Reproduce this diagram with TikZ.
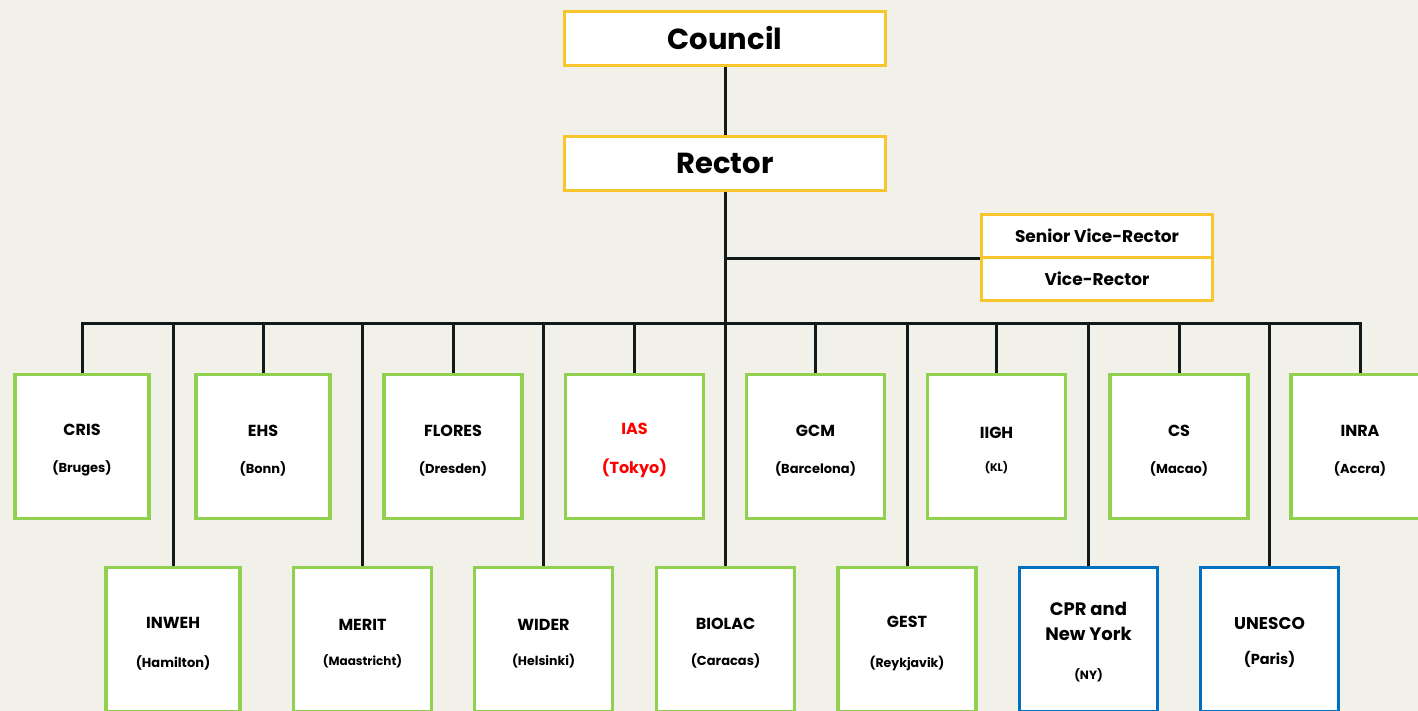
\documentclass[tikz,border=0pt]{standalone}
\usepackage{fontspec}
\setmainfont{Poppins}
\usetikzlibrary{positioning}

\definecolor{paper}{HTML}{F2F1E9}
\definecolor{gold}{HTML}{F8C52C}
\definecolor{leaf}{HTML}{92D050}
\definecolor{ocean}{HTML}{0070C0}
\definecolor{ink}{HTML}{111A1A}

\newcommand{\unitname}[1]{\rule{0pt}{19pt}#1}
\newcommand{\sitename}[1]{{\fontsize{13}{15}\selectfont(#1)}}

\begin{document}
\begin{tikzpicture}[x=1pt,y=-1pt,thick]

		\tikzstyle{office}=[draw=gold,fill=white,line width=3pt,inner sep=0pt,font=\bfseries]
		\tikzstyle{unit}=[draw=leaf,fill=white,line width=3.5pt,minimum width=138pt,minimum height=144pt,inner sep=0pt,align=center,font=\bfseries\fontsize{16}{19}\selectfont]
		\tikzstyle{slim}=[minimum width=134pt]
		\tikzstyle{liaison}=[unit,draw=ocean]
		\tikzstyle{wire}=[draw=ink,line width=3pt]

		\fill[paper] (0,0) rectangle (1418,711);
		\clip (0,0) rectangle (1418,711);

		\node[office,minimum width=321pt,minimum height=54pt,font=\bfseries\fontsize{29}{32}\selectfont] (council) at (725,38.5) {Council};
		\node[office,minimum width=321pt,minimum height=54pt,font=\bfseries\fontsize{29}{32}\selectfont] (rector) at (725,163.5) {Rector};
		\node[office,minimum width=231pt,minimum height=43pt,font=\bfseries\fontsize{17}{20}\selectfont] (svr) at (1097,236) {Senior Vice-Rector};
		\node[office,minimum width=231pt,minimum height=43pt,font=\bfseries\fontsize{17}{20}\selectfont] (vr) [below=-3pt of svr] {Vice-Rector};

		% upper row
		\node[unit,slim] (cris) at (82,446.5) {\unitname{CRIS}\\[18pt]\sitename{Bruges}};
		\node[unit,slim] (ehs) at (263,446.5) {\unitname{EHS}\\[18pt]\sitename{Bonn}};
		\node[unit] (flores) at (453,446.5) {\unitname{FLORES}\\[18pt]\sitename{Dresden}};
		\node[unit,text=red] (ias) at (634.5,446.5) {\unitname{IAS}\\[20pt]{\fontsize{16}{18}\selectfont(Tokyo)}};
		\node[unit] (gcm) at (815.5,446.5) {\unitname{GCM}\\[18pt]\sitename{Barcelona}};
		\node[unit] (iigh) at (996.5,446.5) {\unitname{IIGH}\\[14pt]{\fontsize{11}{12}\selectfont(KL)}};
		\node[unit] (cs) at (1179,446.5) {\unitname{CS}\\[18pt]\sitename{Macao}};
		\node[unit] (inra) at (1360,446.5) {\unitname{INRA}\\[18pt]\sitename{Accra}};

		% lower row
		\node[unit,slim] (inweh) at (173,639.5) {\unitname{INWEH}\\[20pt]\sitename{Hamilton}};
		\node[unit] (merit) at (362.5,639.5) {\unitname{MERIT}\\[16pt]{\fontsize{12}{13}\selectfont(Maastricht)}};
		\node[unit] (wider) at (543.5,639.5) {\unitname{WIDER}\\[16pt]{\fontsize{12.5}{13}\selectfont(Helsinki)}};
		\node[unit] (biolac) at (725.5,639.5) {\unitname{BIOLAC}\\[17pt]\sitename{Caracas}};
		\node[unit] (gest) at (907,639.5) {\unitname{GEST}\\[21pt]{\fontsize{12.5}{13}\selectfont(Reykjavik)}};
		\node[liaison,font=\bfseries\fontsize{18}{25}\selectfont] (cpr) at (1088.5,639.5) {\unitname{CPR and}\\New York\\[14pt]{\fontsize{12}{13}\selectfont(NY)}};
		\node[liaison,font=\bfseries\fontsize{17}{20}\selectfont] (unesco) at (1269.5,639.5) {\unitname{UNESCO}\\[15pt]{\fontsize{14.5}{16}\selectfont(Paris)}};

		\coordinate (vr joint) at (rector.south |- svr.south);
		\coordinate (bus) at (725,323);

		\draw[wire] (council) -- (rector);
		\draw[wire] (rector) -- (rector |- biolac.north);
		\draw[wire] (vr joint) -- (svr.south west);
		\draw[wire] (cris.north) -- (cris.north |- bus) -- (inra.north |- bus) -- (inra.north);
		\foreach \u in {ehs,flores,ias,gcm,iigh,cs,inweh,merit,wider,gest,cpr,unesco}
			\draw[wire] (\u.north |- bus) -- (\u.north);

	\end{tikzpicture}
\end{document}
